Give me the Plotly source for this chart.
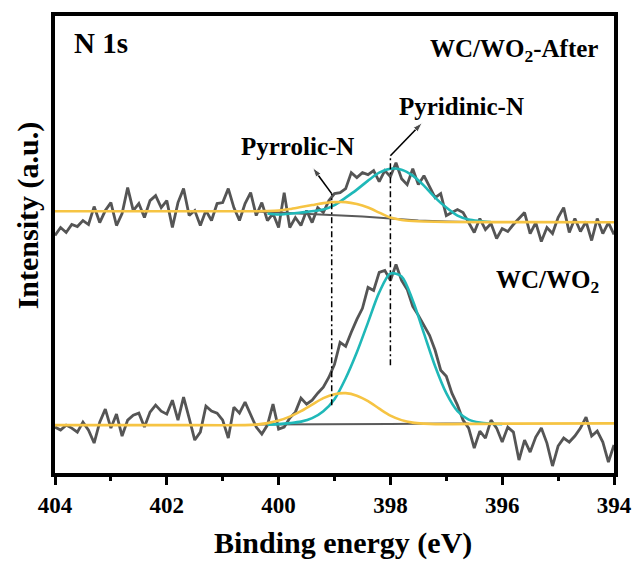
import numpy as np
import plotly.graph_objects as go

# ---- binding-energy grid of the survey (0.1 eV step) ----
energy = np.round(np.linspace(404.0, 394.0, 101), 2)

# ---- raw N 1s counts (arbitrary units, offset stacked) ----
after_raw = [238, 246, 241, 249, 247, 253, 249, 267, 251, 263,
             271, 248, 260, 286, 263, 270, 256, 273, 278, 266,
             273, 246, 271, 285, 258, 263, 248, 263, 253, 270,
             271, 285, 266, 253, 270, 281, 258, 271, 253, 260,
             246, 281, 246, 256, 248, 263, 251, 266, 261, 273,
             280, 281, 285, 301, 296, 301, 299, 303, 292, 303,
             297, 311, 295, 289, 305, 289, 298, 287, 276, 280,
             258, 261, 264, 261, 251, 241, 255, 244, 250, 235,
             245, 242, 249, 255, 261, 240, 251, 232, 246, 240,
             256, 266, 241, 255, 242, 252, 233, 255, 240, 251,
             239]

fresh_raw = [46, 43, 48, 45, 41, 51, 43, 30, 51, 64,
             45, 59, 37, 53, 58, 60, 46, 61, 68, 62,
             59, 73, 53, 76, 55, 33, 41, 67, 62, 60,
             53, 35, 66, 60, 71, 58, 46, 39, 48, 69,
             44, 46, 55, 61, 75, 69, 73, 80, 86, 96,
             109, 131, 127, 141, 154, 165, 186, 183, 201, 203,
             193, 209, 193, 184, 167, 158, 148, 138, 123, 103,
             97, 80, 68, 53, 45, 25, 42, 35, 53, 45,
             31, 46, 41, 13, 33, 21, 36, 45, 30, 7,
             27, 35, 31, 37, 45, 56, 37, 42, 31, 11,
             28]

# ---- fitted components: WC/WO2-After ----
after_bg_e = [400.4, 400.0, 399.5, 399.0, 398.5, 398.0, 397.5, 397.0, 396.6]
after_bg = [262, 261, 260, 259, 257, 255, 253, 252, 251.5]

after_pyrrolic_e = [404.0, 402.0, 400.4, 400.2, 400.0, 399.8, 399.6, 399.4, 399.2,
                    399.0, 398.8, 398.6, 398.4, 398.2, 398.0, 397.8, 397.6,
                    397.4, 397.0, 395.5, 394.0]
after_pyrrolic = [262.3, 262.3, 262.3, 262.5, 263, 264.5, 266.5, 268.5, 270.5,
                  271.5, 271.5, 269.5, 266, 261, 256, 253.5, 252.5,
                  252, 251.5, 251.4, 251.3]

after_pyridinic_e = [400.2, 400.0, 399.6, 399.2, 399.0, 398.8, 398.6, 398.4, 398.2,
                     398.0, 397.8, 397.6, 397.4, 397.2, 397.0, 396.8, 396.6,
                     396.4, 396.2]
after_pyridinic = [260, 259, 261, 264, 268.5, 276, 284, 293, 301,
                   305, 304, 298, 288, 276, 266, 258, 254,
                   252.5, 251.5]

# ---- fitted components: WC/WO2 ----
fresh_bg_e = [400.4, 399.0, 398.0, 397.0, 396.6]
fresh_bg = [48.5, 48.5, 49, 49.5, 49.5]

fresh_pyrrolic_e = [404.0, 402.0, 400.6, 400.4, 400.2, 400.0, 399.8, 399.6, 399.4,
                    399.2, 399.0, 398.8, 398.6, 398.4, 398.2, 398.0, 397.8,
                    397.6, 397.4, 397.2, 396.0, 394.0]
fresh_pyrrolic = [48, 48, 48, 48.5, 50, 52.5, 56.5, 62, 68.5,
                  75, 79, 80, 77.5, 72, 64.5, 57.5, 53,
                  50.5, 49.5, 49, 49.5, 49.7]

fresh_pyridinic_e = [400.2, 400.0, 399.8, 399.6, 399.4, 399.2, 399.0, 398.8, 398.6,
                     398.4, 398.2, 398.0, 397.8, 397.6, 397.4, 397.2, 397.0,
                     396.8, 396.6, 396.4, 396.2, 396.0]
fresh_pyridinic = [48.5, 49, 50, 51.5, 55, 62, 74, 95, 121,
                   151, 181, 200, 197, 173, 140, 107, 80,
                   62, 53.5, 50.5, 49.5, 49]

# ---- peak markers (position, top, bottom) and label anchors ----
marker_e = [399.05, 398.0]
marker_top = [280, 318]
marker_bottom = [68, 108]
arrow_head_e = [399.39, 397.43]
arrow_head_y = [306, 351]
species = ["Pyrrolic-N", "Pyridinic-N"]
species_e = [399.67, 396.73]
species_y = [327, 367]

RAW = "#555555"
BG = "#5a5a5a"
CYAN = "#1fb8b8"
YELLOW = "#f6c443"
FONT = "Liberation Serif, Times New Roman, serif"

fig = go.Figure()

for raw in (after_raw, fresh_raw):
    fig.add_trace(go.Scatter(x=energy, y=raw, mode="lines",
                             line=dict(color=RAW, width=2.8), hoverinfo="skip"))

for e, v in ((after_bg_e, after_bg), (fresh_bg_e, fresh_bg)):
    fig.add_trace(go.Scatter(x=e, y=v, mode="lines",
                             line=dict(color=BG, width=2), hoverinfo="skip"))

for e, v in ((after_pyridinic_e, after_pyridinic), (fresh_pyridinic_e, fresh_pyridinic)):
    fig.add_trace(go.Scatter(x=e, y=v, mode="lines",
                             line=dict(color=CYAN, width=2.6, shape="spline", smoothing=0.8),
                             hoverinfo="skip"))

for e, v in ((after_pyrrolic_e, after_pyrrolic), (fresh_pyrrolic_e, fresh_pyrrolic)):
    fig.add_trace(go.Scatter(x=e, y=v, mode="lines",
                             line=dict(color=YELLOW, width=2.6, shape="spline", smoothing=0.8),
                             hoverinfo="skip"))

# dash-dot guides through the component centres
for e, top, bot in zip(marker_e, marker_top, marker_bottom):
    fig.add_shape(type="line", xref="x", yref="y", x0=e, x1=e, y0=bot, y1=top,
                  line=dict(color="black", width=1.5, dash="6px,3px,2px,3px"))

# leader arrows from the guides towards the species labels
for e, top, he, hy in zip(marker_e, marker_top, arrow_head_e, arrow_head_y):
    fig.add_trace(go.Scatter(
        x=[e, he], y=[top, hy], mode="lines+markers",
        line=dict(color="black", width=1.6),
        marker=dict(symbol="arrow", size=[0, 10], angleref="previous", color="black"),
        hoverinfo="skip"))

annotations = []
for name, e, yv in zip(species, species_e, species_y):
    annotations.append(dict(x=e, y=yv, xref="x", yref="y", text=f"<b>{name}</b>",
                            showarrow=False, font=dict(family=FONT, size=25, color="black")))

annotations += [
    dict(x=0.03, y=0.94, xref="paper", yref="paper", xanchor="left", yanchor="middle",
         text="<b>N 1s</b>", showarrow=False,
         font=dict(family=FONT, size=29, color="black")),
    dict(x=0.975, y=0.925, xref="paper", yref="paper", xanchor="right", yanchor="middle",
         text="<b>WC/WO<sub>2</sub>-After</b>", showarrow=False,
         font=dict(family=FONT, size=25, color="black")),
    dict(x=0.977, y=0.42, xref="paper", yref="paper", xanchor="right", yanchor="middle",
         text="<b>WC/WO<sub>2</sub></b>", showarrow=False,
         font=dict(family=FONT, size=25, color="black")),
    dict(x=0.516, y=-0.153, xref="paper", yref="paper", xanchor="center", yanchor="middle",
         text="<b>Binding energy (eV)</b>", showarrow=False,
         font=dict(family=FONT, size=30, color="black")),
    dict(x=-0.049, y=0.563, xref="paper", yref="paper", xanchor="center", yanchor="middle",
         text="<b>Intensity (a.u.)</b>", textangle=-90, showarrow=False,
         font=dict(family=FONT, size=30, color="black")),
]

fig.update_layout(
    width=644, height=563,
    margin=dict(l=55, r=21, t=15, b=90),
    paper_bgcolor="white", plot_bgcolor="white",
    showlegend=False,
    annotations=annotations,
    font=dict(family=FONT, color="black"),
)

fig.update_xaxes(
    range=[404, 394], showgrid=False, zeroline=False,
    showline=True, linecolor="black", linewidth=4, mirror=True,
    ticks="outside", ticklen=8, tickwidth=2.5, tickcolor="black",
    tickvals=[404, 402, 400, 398, 396, 394],
    tickfont=dict(family=FONT, size=23, color="black", weight="bold"),
    minor=dict(tickvals=[403, 401, 399, 397, 395], ticks="outside",
               ticklen=4, tickwidth=2.5, tickcolor="black"),
)
fig.update_yaxes(
    range=[0, 458], showgrid=False, zeroline=False,
    showline=True, linecolor="black", linewidth=4, mirror=True,
    showticklabels=False, ticks="",
)

fig.write_html("out.html")
